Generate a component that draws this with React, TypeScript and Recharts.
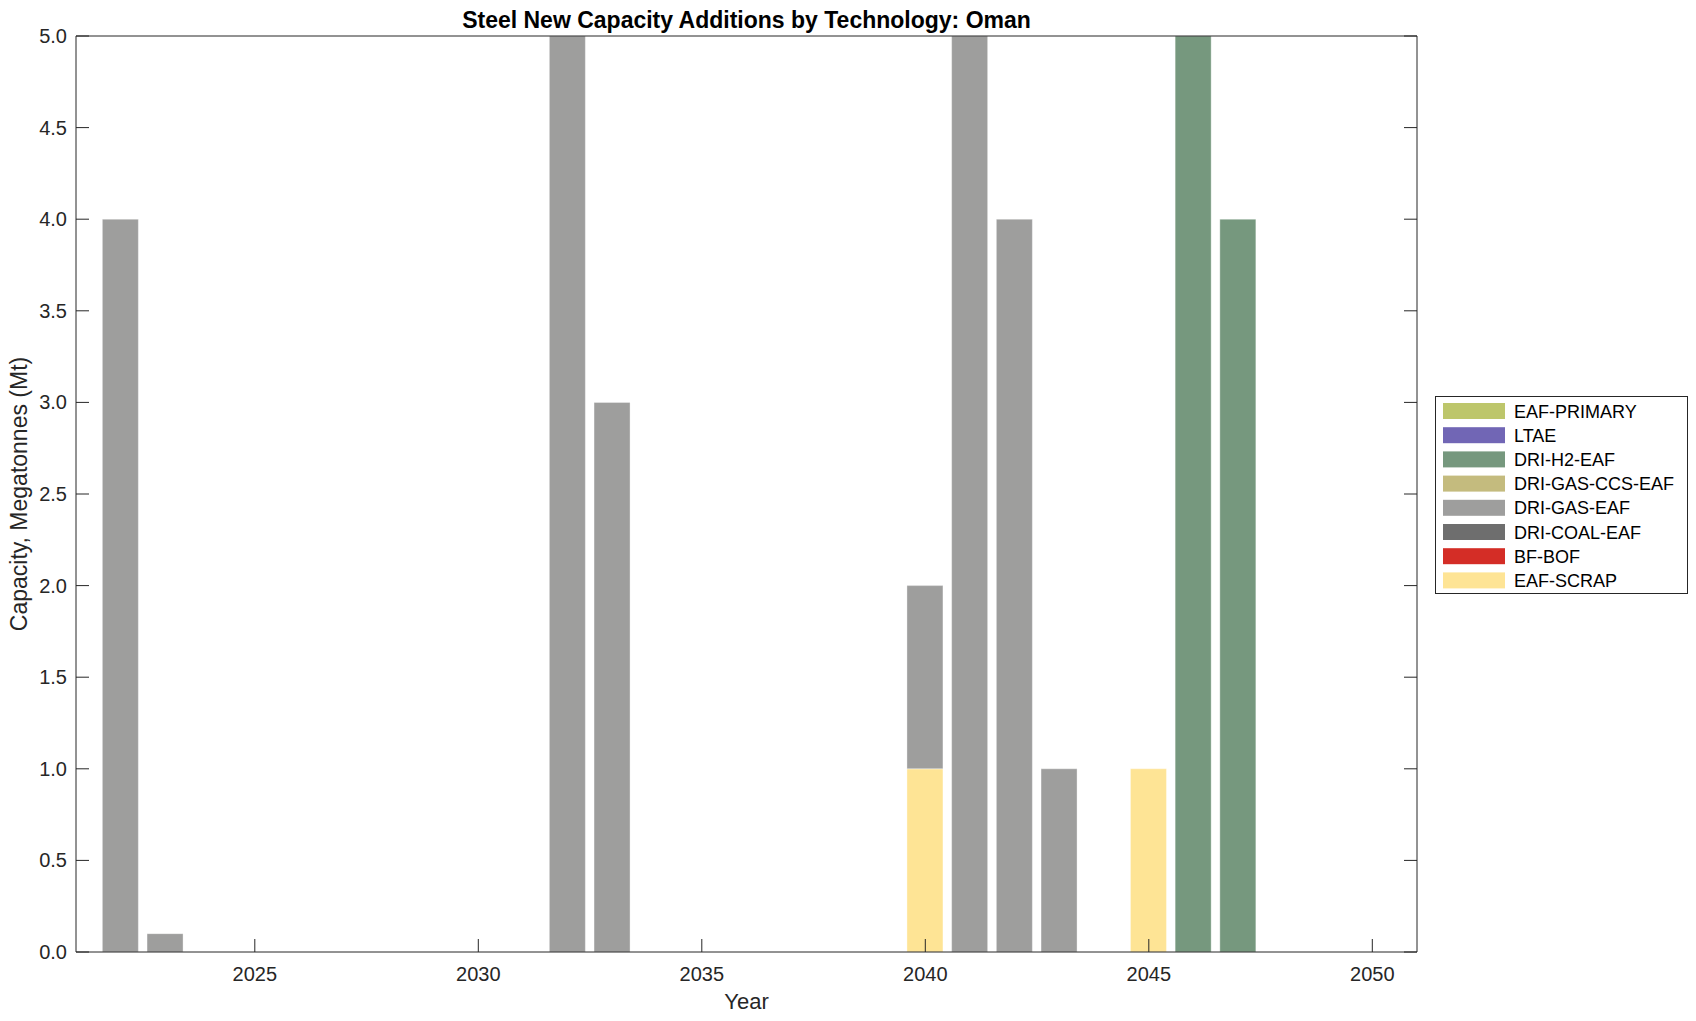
import { Bar, BarChart, XAxis, YAxis } from "recharts";

// years on the x axis
const years = [
	2022, 2023, 2024, 2025, 2026, 2027, 2028, 2029, 2030, 2031,
	2032, 2033, 2034, 2035, 2036, 2037, 2038, 2039, 2040, 2041,
	2042, 2043, 2044, 2045, 2046, 2047, 2048, 2049, 2050,
];

// new capacity (Mt) per technology, one value per year
const eafScrap = [0, 0, 0, 0, 0, 0, 0, 0, 0, 0, 0, 0, 0, 0, 0, 0, 0, 0, 1, 0, 0, 0, 0, 1, 0, 0, 0, 0, 0];
const bfBof = [0, 0, 0, 0, 0, 0, 0, 0, 0, 0, 0, 0, 0, 0, 0, 0, 0, 0, 0, 0, 0, 0, 0, 0, 0, 0, 0, 0, 0];
const driCoalEaf = [0, 0, 0, 0, 0, 0, 0, 0, 0, 0, 0, 0, 0, 0, 0, 0, 0, 0, 0, 0, 0, 0, 0, 0, 0, 0, 0, 0, 0];
const driGasEaf = [4, 0.1, 0, 0, 0, 0, 0, 0, 0, 0, 6, 3, 0, 0, 0, 0, 0, 0, 1, 6, 4, 1, 0, 0, 0, 0, 0, 0, 0];
const driGasCcsEaf = [0, 0, 0, 0, 0, 0, 0, 0, 0, 0, 0, 0, 0, 0, 0, 0, 0, 0, 0, 0, 0, 0, 0, 0, 0, 0, 0, 0, 0];
const driH2Eaf = [0, 0, 0, 0, 0, 0, 0, 0, 0, 0, 0, 0, 0, 0, 0, 0, 0, 0, 0, 0, 0, 0, 0, 0, 6, 4, 0, 0, 0];
const ltae = [0, 0, 0, 0, 0, 0, 0, 0, 0, 0, 0, 0, 0, 0, 0, 0, 0, 0, 0, 0, 0, 0, 0, 0, 0, 0, 0, 0, 0];
const eafPrimary = [0, 0, 0, 0, 0, 0, 0, 0, 0, 0, 0, 0, 0, 0, 0, 0, 0, 0, 0, 0, 0, 0, 0, 0, 0, 0, 0, 0, 0];

const xTicks = [2025, 2030, 2035, 2040, 2045, 2050];
const yTicks = [0, 0.5, 1, 1.5, 2, 2.5, 3, 3.5, 4, 4.5, 5];

// stacking order, bottom first
const series = [
	{ key: "EAF-SCRAP", values: eafScrap, color: "#fee495" },
	{ key: "BF-BOF", values: bfBof, color: "#d42d26" },
	{ key: "DRI-COAL-EAF", values: driCoalEaf, color: "#6e6e6e" },
	{ key: "DRI-GAS-EAF", values: driGasEaf, color: "#9e9e9d" },
	{ key: "DRI-GAS-CCS-EAF", values: driGasCcsEaf, color: "#c4bb7e" },
	{ key: "DRI-H2-EAF", values: driH2Eaf, color: "#76987e" },
	{ key: "LTAE", values: ltae, color: "#7166b5" },
	{ key: "EAF-PRIMARY", values: eafPrimary, color: "#bdc66b" },
];

const data = years.map((year, i) => {
	const row: Record<string, number> = { year };
	series.forEach((s) => (row[s.key] = s.values[i]));
	return row;
});

const FONT = "'Liberation Sans', Arial, Helvetica, sans-serif";
const INK = "#262626";
const TICK = 13;

const BottomTick = (p: any) => (
	<g>
		<line x1={p.x} y1={p.y} x2={p.x} y2={p.y - TICK} stroke={INK} />
		<text x={p.x} y={p.y + 29} textAnchor="middle" fontSize={20} fill={INK} fontFamily={FONT}>
			{p.payload.value}
		</text>
	</g>
);

const TopTick = (p: any) => <line x1={p.x} y1={p.y} x2={p.x} y2={p.y + TICK} stroke={INK} />;

const LeftTick = (p: any) => (
	<g>
		<line x1={p.x} y1={p.y} x2={p.x + TICK} y2={p.y} stroke={INK} />
		<text x={p.x - 9} y={p.y + 7} textAnchor="end" fontSize={20} fill={INK} fontFamily={FONT}>
			{Number(p.payload.value).toFixed(1)}
		</text>
	</g>
);

const RightTick = (p: any) => <line x1={p.x} y1={p.y} x2={p.x - TICK} y2={p.y} stroke={INK} />;

const legendRows = [...series].reverse();

export default function App() {
	return (
		<div style={{ position: "absolute", left: 0, top: 0, width: 1696, height: 1021, background: "#fff" }}>
			<BarChart
				width={1696}
				height={1021}
				data={data}
				margin={{ top: 35, right: 278, bottom: 9, left: 16 }}
			>
				<XAxis
					dataKey="year"
					type="number"
					domain={[2021, 2051]}
					allowDataOverflow
					ticks={xTicks}
					interval={0}
					height={60}
					tickSize={0}
					tickMargin={0}
					tickLine={false}
					tick={BottomTick}
					axisLine={{ stroke: INK }}
				/>
				<XAxis
					xAxisId="top"
					orientation="top"
					type="number"
					domain={[2021, 2051]}
					allowDataOverflow
					ticks={xTicks}
					interval={0}
					height={1}
					tickSize={0}
					tickMargin={0}
					tickLine={false}
					tick={TopTick}
					axisLine={{ stroke: INK }}
				/>
				<YAxis
					type="number"
					domain={[0, 5]}
					allowDataOverflow
					ticks={yTicks}
					interval={0}
					width={60}
					tickSize={0}
					tickMargin={0}
					tickLine={false}
					tick={LeftTick}
					axisLine={{ stroke: INK }}
				/>
				<YAxis
					yAxisId="right"
					orientation="right"
					type="number"
					domain={[0, 5]}
					allowDataOverflow
					ticks={yTicks}
					interval={0}
					width={1}
					tickSize={0}
					tickMargin={0}
					tickLine={false}
					tick={RightTick}
					axisLine={{ stroke: INK }}
				/>
				{series.map((s) => (
					<Bar
						key={s.key}
						dataKey={s.key}
						stackId="a"
						barSize={36}
						fill={s.color}
						stroke="rgba(255,255,255,0.35)"
						strokeWidth={1}
						isAnimationActive={false}
					/>
				))}
			</BarChart>
			<svg
				width={1696}
				height={1021}
				style={{ position: "absolute", left: 0, top: 0, pointerEvents: "none" }}
				fontFamily={FONT}
			>
				<text x={746.5} y={28} textAnchor="middle" fontSize={23} fontWeight="bold" fill="#000">
					Steel New Capacity Additions by Technology: Oman
				</text>
				<text x={746.5} y={1009} textAnchor="middle" fontSize={22} fill={INK}>
					Year
				</text>
				<text transform="translate(27,494) rotate(-90)" textAnchor="middle" fontSize={23} fill={INK}>
					Capacity, Megatonnes (Mt)
				</text>
				<rect x={1435.5} y={396.5} width={252} height={197} fill="#fff" stroke={INK} strokeWidth={1} />
				{legendRows.map((s, i) => (
					<g key={s.key}>
						<rect x={1443} y={403 + i * 24.2} width={62} height={16} fill={s.color} />
						<text x={1514} y={417.5 + i * 24.2} fontSize={18} fill="#000">
							{s.key}
						</text>
					</g>
				))}
			</svg>
		</div>
	);
}
